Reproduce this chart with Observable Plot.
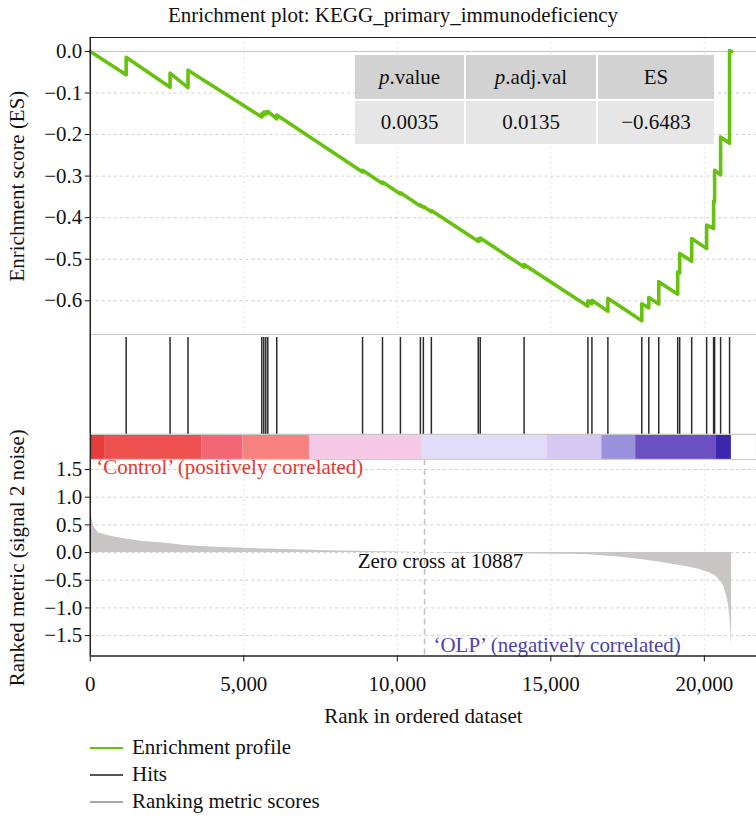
<!DOCTYPE html>
<html>
<head>
<meta charset="utf-8">
<script src="https://cdn.jsdelivr.net/npm/d3@7"></script>
<script src="https://cdn.jsdelivr.net/npm/@observablehq/plot@0.6"></script>
<style>
  html, body { margin: 0; padding: 0; background: #fff; }
  body { font-family: "Liberation Serif", "Times New Roman", serif; color: #111; overflow: hidden; }
  #wrap { position: relative; width: 756px; height: 818px; overflow: hidden; }
  #title { height: 30px; line-height: 30px; font-size: 21px; text-align: center; padding-left: 30px; box-sizing: border-box; width: 756px; }
  #charts svg { display: block; }
  #stats { position: absolute; left: 355px; top: 55px; border-collapse: separate; border-spacing: 2px; margin: -2px; font-size: 21px; }
  #stats td { text-align: center; padding: 0; }
  #stats tr.h td { background: #d2d2d2; height: 44px; }
  #stats tr.v td { background: #e6e6e6; height: 43px; }
  #legend { margin-top: 4px; font-size: 21px; }
  #legend .row { height: 27px; line-height: 27px; display: flex; align-items: center; }
  #legend .sw { width: 33px; height: 2px; margin-left: 90px; margin-right: 9px; }
</style>
</head>
<body>
<div id="wrap">
  <div id="title">Enrichment plot: KEGG_primary_immunodeficiency</div>
  <div id="charts"></div>
  <table id="stats"></table>
  <div id="legend"></div>
</div>
<script>
// ---------------- data ----------------
const hitRanks = [1169, 2599, 3183, 5587, 5652, 5717, 5782, 6074, 8868, 9518, 10102, 10752, 10849, 11109,
  12636, 12701, 14130, 16209, 16339, 16859, 17963, 18191, 18516, 19133, 19198, 19588, 20075, 20302, 20335, 20530, 20822];
const esBefore = [-0.056, -0.086, -0.087, -0.158, -0.153, -0.150, -0.149, -0.162, -0.290, -0.318, -0.343, -0.372, -0.375, -0.386,
  -0.457, -0.455, -0.519, -0.613, -0.607, -0.625, -0.648, -0.617, -0.608, -0.584, -0.533, -0.505, -0.474, -0.426, -0.362, -0.297, -0.221];
const esAfter = [-0.014, -0.052, -0.045, -0.150, -0.146, -0.145, -0.144, -0.153, -0.286, -0.314, -0.340, -0.369, -0.373, -0.383,
  -0.451, -0.449, -0.513, -0.600, -0.599, -0.594, -0.607, -0.592, -0.554, -0.530, -0.486, -0.450, -0.418, -0.360, -0.286, -0.206, 0.002];
const lastRank = 20887;

const metricRanks = [0, 20, 60, 107, 270, 705, 1244, 1731, 2381, 3086, 4060, 5253, 6334, 7796, 8673, 10005, 10887,
  11694, 14293, 16135, 17216, 17866, 18516, 18948, 19490, 19815, 20140, 20357, 20530, 20627, 20725, 20790, 20838, 20877, 20887];
const metricValues = [0.70, 0.69, 0.60, 0.475, 0.355, 0.29, 0.235, 0.20, 0.175, 0.126, 0.096, 0.072, 0.054, 0.035, 0.023, 0.008, 0.0,
  -0.01, -0.025, -0.035, -0.08, -0.12, -0.17, -0.21, -0.26, -0.30, -0.36, -0.42, -0.52, -0.60, -0.78, -0.96, -1.2, -1.56, -1.74];
const zeroCross = 10887;

const barStart = [0, 487, 3638, 4970, 7146, 10817, 14877, 16664, 17768, 20400];
const barEnd   = [487, 3638, 4970, 7146, 10817, 14877, 16664, 17768, 20400, 20887];
const barColors = ["#e63c3c", "#ef5050", "#f26676", "#f6827f", "#f5c9e6", "#e1dcf7", "#d5c8f1", "#9a90dc", "#6b50c2", "#3b27ad"];

const esTicks = [0, -0.1, -0.2, -0.3, -0.4, -0.5, -0.6];
const metricTicks = [1.5, 1.0, 0.5, 0.0, -0.5, -1.0, -1.5];
const xTicks = [0, 5000, 10000, 15000, 20000];

const statHeaders = ["<i>p</i>.value", "<i>p</i>.adj.val", "ES"];
const statValues = ["0.0035", "0.0135", "\u22120.6483"];

const legendLabels = ["Enrichment profile", "Hits", "Ranking metric scores"];
const legendColors = ["#66c20e", "#555555", "#a8a8a8"];

// ---------------- build ----------------
const W = 758, ML = 90;
const xDomain = [0, 21699];
const esDomain = [-0.6816, 0.0336];
const mDomain = [-1.868, 1.681];
const font = {fontFamily: '"Liberation Serif","Times New Roman",serif', fontSize: "21px", color: "#111", background: "#fff", overflow: "visible"};
const fmt1 = d3.format(".1f");

const esData = [{r: 0, v: 0}];
hitRanks.forEach((r, i) => { esData.push({r, v: esBefore[i]}); esData.push({r, v: esAfter[i]}); });
esData.push({r: lastRank, v: 0});

const metricData = metricRanks.map((r, i) => ({r, v: metricValues[i]}));
const bars = barStart.map((s, i) => ({s, e: barEnd[i], c: barColors[i]}));

const grid = {stroke: "#cfcfcf", strokeOpacity: 1, strokeDasharray: "3,3"};

const plotA = Plot.plot({
  width: W, height: 305, marginLeft: ML, marginRight: 0, marginTop: 7, marginBottom: 0,
  style: font,
  x: {domain: xDomain, axis: null},
  y: {domain: esDomain},
  marks: [
    Plot.gridX(xTicks, {...grid, strokeDasharray: "2,3", stroke: "#e0e0e0"}),
    Plot.gridY(esTicks, grid),
    Plot.ruleY([0], {stroke: "#c4c4c4"}),
    Plot.line(esData, {x: "r", y: "v", stroke: "#66c20e", strokeWidth: 3.6}),
    Plot.axisY(esTicks, {tickFormat: fmt1, tickSize: 5, tickPadding: 3, label: "Enrichment score (ES)",
      labelAnchor: "center", labelArrow: "none", labelOffset: 81}),
    Plot.ruleY([esDomain[1]], {stroke: "#222", strokeWidth: 1.2}),
    Plot.ruleX([xDomain[0]], {stroke: "#222", strokeWidth: 1.5})
  ]
});

const plotB = Plot.plot({
  width: W, height: 100, marginLeft: ML, marginRight: 0, marginTop: 0, marginBottom: 0,
  style: font,
  x: {domain: xDomain, axis: null},
  marks: [
    Plot.frame({stroke: "#c8c8c8"}),
    Plot.ruleX(hitRanks, {stroke: "#2b2b2b", strokeWidth: 1.5, insetTop: 3}),
    Plot.ruleX([xDomain[0]], {stroke: "#222", strokeWidth: 1.5})
  ]
});

const plotBar = Plot.plot({
  width: W, height: 25, marginLeft: ML, marginRight: 0, marginTop: 0, marginBottom: 0,
  style: font,
  x: {domain: xDomain, axis: null},
  color: {type: "identity"},
  marks: [
    Plot.rect(bars, {x1: "s", x2: "e", fill: "c"}),
    Plot.frame({stroke: "#c8c8c8"}),
    Plot.ruleX([xDomain[0]], {stroke: "#222", strokeWidth: 1.5})
  ]
});

const plotC = Plot.plot({
  width: W, height: 272, marginLeft: ML, marginRight: 0, marginTop: 0, marginBottom: 75,
  style: font,
  x: {domain: xDomain},
  y: {domain: mDomain},
  marks: [
    Plot.gridX(xTicks, {...grid, strokeDasharray: "2,3", stroke: "#e0e0e0"}),
    Plot.gridY(metricTicks, grid),
    Plot.areaY(metricData, {x: "r", y: "v", fill: "#c9c5c5"}),
    Plot.ruleX([zeroCross], {stroke: "#c2c2c2", strokeWidth: 1.6, strokeDasharray: "6,4"}),
    Plot.text(["\u2018Control\u2019 (positively correlated)"], {frameAnchor: "top-left", dx: 6, dy: 0, textAnchor: "start", lineAnchor: "top", fill: "#e3392f", fontSize: 21}),
    Plot.text(["Zero cross at 10887"], {x: () => zeroCross, y: () => 0, dx: 16, dy: 9, textAnchor: "middle", lineAnchor: "middle", fill: "#111", fontSize: 21}),
    Plot.text(["\u2018OLP\u2019 (negatively correlated)"], {x: () => zeroCross, frameAnchor: "bottom", dx: 9, dy: -4, textAnchor: "start", lineAnchor: "bottom", fill: "#4e3fb0", fontSize: 21}),
    Plot.axisY(metricTicks, {tickFormat: fmt1, tickSize: 5, tickPadding: 3, label: "Ranked metric (signal 2 noise)",
      labelAnchor: "center", labelArrow: "none", labelOffset: 81}),
    Plot.axisX(xTicks, {tickFormat: d3.format(","), tickSize: 6, tickPadding: 14, label: "Rank in ordered dataset",
      labelAnchor: "center", labelArrow: "none", labelOffset: 67}),
    Plot.ruleY([mDomain[0]], {stroke: "#222", strokeWidth: 1.5}),
    Plot.ruleX([xDomain[0]], {stroke: "#222", strokeWidth: 1.5})
  ]
});

const charts = document.getElementById("charts");
[plotA, plotB, plotBar, plotC].forEach(p => charts.appendChild(p));

// stats table
const table = document.getElementById("stats");
const colW = [109, 130, 116];
const trH = document.createElement("tr"); trH.className = "h";
statHeaders.forEach((h, i) => { const td = document.createElement("td"); td.innerHTML = h; td.style.width = colW[i] + "px"; trH.appendChild(td); });
const trV = document.createElement("tr"); trV.className = "v";
statValues.forEach((v, i) => { const td = document.createElement("td"); td.textContent = v; td.style.width = colW[i] + "px"; trV.appendChild(td); });
table.appendChild(trH); table.appendChild(trV);

// legend
const legend = document.getElementById("legend");
legendLabels.forEach((l, i) => {
  const row = document.createElement("div"); row.className = "row";
  const sw = document.createElement("span"); sw.className = "sw"; sw.style.background = legendColors[i];
  const tx = document.createElement("span"); tx.textContent = l;
  row.appendChild(sw); row.appendChild(tx); legend.appendChild(row);
});
</script>
</body>
</html>
